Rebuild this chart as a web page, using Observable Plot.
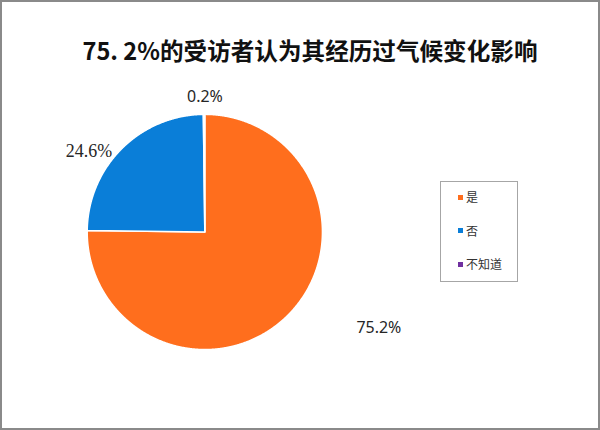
<!DOCTYPE html>
<html><head><meta charset="utf-8">
<script src="https://cdn.jsdelivr.net/npm/d3@7"></script>
<script src="https://cdn.jsdelivr.net/npm/@observablehq/plot@0.6"></script>
<style>
html,body{margin:0;padding:0;background:#fff;}
#wrap{position:relative;width:600px;height:430px;box-sizing:border-box;border:2px solid #8a8a8a;overflow:hidden;font-family:"Noto Sans CJK SC","Noto Sans",sans-serif;}
#title{position:absolute;left:0;top:0;width:600px;height:73px;text-align:center;font-size:23.6px;font-weight:bold;line-height:24px;padding-top:36px;box-sizing:border-box;color:#111;padding-left:16px;}
#chart{position:absolute;left:-2px;top:73px;}
#legend{position:absolute;left:438px;top:179px;width:78px;height:101px;border:1px solid #a6a6a6;box-sizing:border-box;font-size:12px;color:#333;}
.li{position:absolute;left:17px;height:16px;line-height:16px;display:flex;align-items:center;}
.sw{width:5px;height:5px;margin-right:3px;}
</style></head>
<body>
<div id="wrap">
<div id="title">75. 2%的受访者认为其经历过气候变化影响</div>
<div id="chart"></div>
<div id="legend"></div>
</div>
<script>
const categories = ["是", "否", "不知道"];
const values = [75.2, 24.6, 0.2];
const labels = ["75.2%", "24.6%", "0.2%"];
const colors = ["#FF6E1D", "#0A7ED8", "#7030A0"];

const W = 600, H = 357, cx = 205, cy = 157, R = 118;
const pie = d3.pie().sort(null).value(d => d.value)(categories.map((c, i) => ({cat: c, value: values[i], label: labels[i]})));

// polygon points for each slice (angle 0 = top, clockwise)
const pts = [];
pie.forEach(p => {
  const n = Math.max(2, Math.ceil((p.endAngle - p.startAngle) / 0.005));
  pts.push({cat: p.data.cat, x: 0, y: 0});
  for (let k = 0; k <= n; k++) {
    const a = p.startAngle + (p.endAngle - p.startAngle) * k / n;
    pts.push({cat: p.data.cat, x: Math.sin(a), y: Math.cos(a)});
  }
  pts.push({cat: p.data.cat, x: 0, y: 0});
});

// label positions derived from slice mid-angles, with Excel-like best-fit nudges
const nudges = {"是": [71, -9], "否": [-12, 23], "不知道": [1, -1]};
const labelFont = {"是": "'Noto Sans',sans-serif", "否": "'Liberation Serif',serif", "不知道": "'Noto Sans',sans-serif"};
const labelSize = {"是": 16, "否": 18, "不知道": 16};
const labPts = pie.map(p => {
  const a = (p.startAngle + p.endAngle) / 2;
  const r = p.data.value < 1 ? 1.14 : 1.25;
  return {cat: p.data.cat, label: p.data.label, x: Math.sin(a) * r, y: Math.cos(a) * r};
});

const chart = Plot.plot({
  width: W, height: H,
  margin: 0,
  x: {domain: [-cx / R, (W - cx) / R], axis: null},
  y: {domain: [-(H - cy) / R, cy / R], axis: null},
  color: {domain: categories, range: colors},
  style: {background: "transparent", overflow: "visible"},
  marks: [
    Plot.line(pts, {x: "x", y: "y", z: "cat", fill: "cat", stroke: "white", strokeWidth: 1.5, curve: "linear", strokeLinejoin: "round"}),
    Plot.text(labPts, {x: "x", y: "y", text: "label", fill: "#262626",
      textAnchor: "middle", lineAnchor: "middle"})
  ]
});
// apply per-label nudges and fonts
const texts = chart.querySelectorAll("text");
labPts.forEach((d, i) => {
  if (texts[i]) {
    const t = texts[i];
    const tr = t.getAttribute("transform") || "";
    t.setAttribute("transform", tr + ` translate(${nudges[d.cat][0]},${nudges[d.cat][1]})`);
    t.setAttribute("font-family", labelFont[d.cat]);
    t.setAttribute("font-size", labelSize[d.cat]);
  }
});
document.getElementById("chart").appendChild(chart);

const lg = document.getElementById("legend");
categories.forEach((c, i) => {
  const el = document.createElement("div");
  el.className = "li";
  el.style.top = (7 + i * 33.5) + "px";
  el.innerHTML = `<span class="sw" style="background:${colors[i]}"></span><span>${c}</span>`;
  lg.appendChild(el);
});
</script>
</body></html>
